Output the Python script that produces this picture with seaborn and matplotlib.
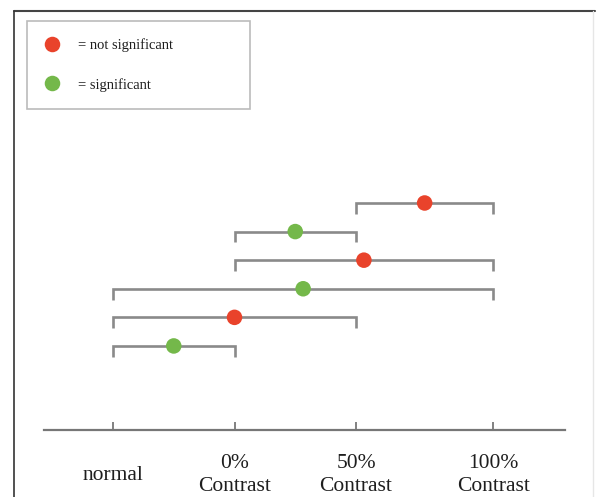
import matplotlib
matplotlib.use("Agg")
import matplotlib.pyplot as plt
import seaborn as sns
import pandas as pd
from matplotlib.lines import Line2D

# ---- data ----
conditions = ["normal", "0%\nContrast", "50%\nContrast", "100%\nContrast"]
cond_pos = [0.0, 1.0, 2.0, 3.13]          # horizontal placement of the conditions
pair_from = [2, 1, 1, 0, 0, 0]            # index of left condition of each comparison
pair_to = [3, 2, 3, 3, 2, 1]              # index of right condition
significance = ["not significant", "significant", "not significant",
                "significant", "not significant", "significant"]
legend_labels = {"not significant": "= not significant", "significant": "= significant"}

RED = "#e9432b"
GREEN = "#74b84a"
GRAY = "#8a8a8a"

sns.set_theme(style="white")
plt.rcParams["font.family"] = ["Liberation Serif", "DejaVu Serif"]

W, H = 597, 497
fig = plt.figure(figsize=(W / 100, H / 100), dpi=100)
fig.patch.set_facecolor("white")

# axes spans pixel x 44..565, y 12..430
ax = fig.add_axes([44 / W, 1 - 430 / H, (565 - 44) / W, (430 - 12) / H])
ax.set_facecolor("white")

rows = list(range(len(pair_from)))
df = pd.DataFrame({
    "x": [(cond_pos[a] + cond_pos[b]) / 2 for a, b in zip(pair_from, pair_to)],
    "row": rows,
    "significance": significance,
})

# brackets
tick = 0.38
for a, b, r in zip(pair_from, pair_to, rows):
    xa, xb = cond_pos[a], cond_pos[b]
    ax.plot([xa, xa, xb, xb], [r + tick, r, r, r + tick], color=GRAY, lw=1.9,
            solid_joinstyle="miter", solid_capstyle="butt", zorder=1)

sns.scatterplot(data=df, x="x", y="row", hue="significance",
                palette={"not significant": RED, "significant": GREEN},
                hue_order=["not significant", "significant"],
                s=125, linewidth=0, ax=ax, zorder=3)

ax.set_xlim((44 - 113) / 121.5, (565 - 113) / 121.5)
ax.set_ylim(7.94, -6.68)

for side in ["left", "top", "right"]:
    ax.spines[side].set_visible(False)
ax.spines["bottom"].set_color("#777777")
ax.spines["bottom"].set_linewidth(1.6)
ax.set_yticks([])
ax.set_xticks(cond_pos)
ax.set_xticklabels(conditions, fontsize=15.5, linespacing=1.25, color="#1e1e1e")
ax.tick_params(axis="x", direction="in", length=6, width=1.3, color="#777777",
               pad=32.5, bottom=True)
for lab in ax.get_xticklabels():
    lab.set_verticalalignment("center")
ax.set_xlabel("")
ax.set_ylabel("")

# legend
handles, labels = ax.get_legend_handles_labels()
if ax.legend_ is not None:
    ax.legend_.remove()
leg = fig.legend(handles, [legend_labels[l] for l in labels],
                 loc="upper left",
                 bbox_to_anchor=(27 / W, 1 - 21 / H, 223 / W, 0.0001),
                 bbox_transform=fig.transFigure, mode="expand",
                 fontsize=10.5, frameon=True, fancybox=False,
                 borderpad=1.2, labelspacing=1.75, handlelength=1.0,
                 handletextpad=1.3, borderaxespad=0)
leg.get_frame().set_edgecolor("#aaaaaa")
leg.get_frame().set_linewidth(1.2)
for t in leg.get_texts():
    t.set_color("#1e1e1e")

# outer frame lines
fig.add_artist(Line2D([14 / W, 595 / W], [1 - 10.5 / H, 1 - 10.5 / H],
                      transform=fig.transFigure, color="#444444", lw=1.5))
fig.add_artist(Line2D([14 / W, 14 / W], [0, 1 - 10.5 / H],
                      transform=fig.transFigure, color="#333333", lw=1.2))
fig.add_artist(Line2D([593 / W, 593 / W], [0, 1 - 10.5 / H],
                      transform=fig.transFigure, color="#e6e6e6", lw=1.0))

fig.savefig("out.png", dpi=100, facecolor="white")
